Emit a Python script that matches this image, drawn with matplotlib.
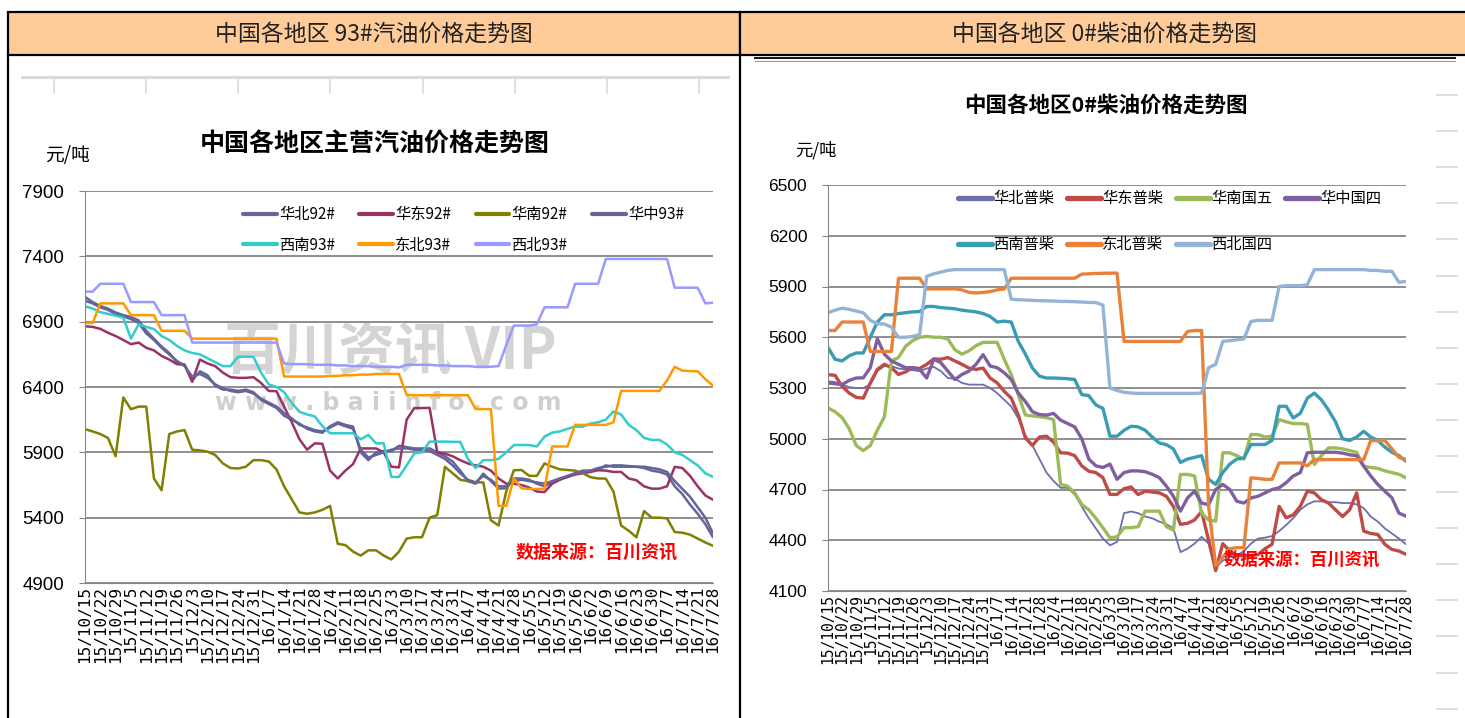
import numpy as np
import matplotlib
matplotlib.use('Agg')
import matplotlib.pyplot as plt
from matplotlib.lines import Line2D
from matplotlib.patches import Rectangle

plt.rcParams['font.family'] = ['Noto Sans CJK SC', 'DejaVu Sans']

W, H = 1465, 718

# 周度日期标签（两个图共用）
dates = ['15/10/15', '15/10/22', '15/10/29', '15/11/5', '15/11/12', '15/11/19', '15/11/26',
         '15/12/3', '15/12/10', '15/12/17', '15/12/24', '15/12/31', '16/1/7', '16/1/14',
         '16/1/21', '16/1/28', '16/2/4', '16/2/11', '16/2/18', '16/2/25', '16/3/3', '16/3/10',
         '16/3/17', '16/3/24', '16/3/31', '16/4/7', '16/4/14', '16/4/21', '16/4/28', '16/5/5',
         '16/5/12', '16/5/19', '16/5/26', '16/6/2', '16/6/9', '16/6/16', '16/6/23', '16/6/30',
         '16/7/7', '16/7/14', '16/7/21', '16/7/28']

# 汽油价格（半周一个点）
huabei_92 = [7090, 7050, 7020, 7000, 6970, 6950, 6935, 6910, 6830, 6770,
             6710, 6660, 6590, 6570, 6450, 6520, 6490, 6410, 6380, 6380,
             6370, 6380, 6360, 6300, 6270, 6240, 6180, 6150, 6120, 6080,
             6060, 6050, 6100, 6130, 6110, 6097, 5900, 5840, 5900, 5910,
             5910, 5950, 5940, 5930, 5930, 5930, 5900, 5870, 5830, 5760,
             5680, 5660, 5737, 5680, 5622, 5625, 5700, 5700, 5690, 5660,
             5640, 5670, 5700, 5712, 5740, 5760, 5760, 5770, 5800, 5790,
             5790, 5790, 5790, 5780, 5760, 5750, 5730, 5640, 5580, 5500,
             5430, 5350, 5250]
huadong_92 = [6865, 6860, 6845, 6815, 6790, 6760, 6728, 6740, 6700, 6680,
              6638, 6610, 6575, 6570, 6440, 6610, 6580, 6560, 6510, 6475,
              6470, 6470, 6475, 6430, 6370, 6368, 6250, 6130, 6000, 5920,
              5969, 5965, 5760, 5700, 5760, 5810, 5930, 5930, 5930, 5900,
              5790, 5785, 6150, 6239, 6239, 6240, 5900, 5890, 5870, 5840,
              5815, 5800, 5790, 5760, 5700, 5660, 5660, 5650, 5630, 5600,
              5596, 5660, 5690, 5712, 5730, 5740, 5750, 5763, 5760, 5750,
              5750, 5700, 5686, 5640, 5622, 5622, 5640, 5789, 5780, 5720,
              5640, 5570, 5537]
huanan_92 = [6077, 6060, 6040, 6010, 5870, 6320, 6230, 6250, 6250, 5700,
             5610, 6040, 6060, 6070, 5920, 5915, 5905, 5880, 5815, 5780,
             5776, 5790, 5840, 5840, 5830, 5770, 5640, 5540, 5440, 5430,
             5440, 5460, 5490, 5200, 5190, 5140, 5110, 5150, 5150, 5110,
             5080, 5140, 5240, 5250, 5250, 5400, 5420, 5789, 5740, 5690,
             5680, 5670, 5670, 5380, 5340, 5600, 5763, 5765, 5720, 5720,
             5815, 5790, 5770, 5765, 5760, 5740, 5710, 5700, 5699, 5600,
             5340, 5300, 5250, 5450, 5400, 5400, 5395, 5290, 5285, 5270,
             5240, 5210, 5185]
huazhong_93 = [7060, 7040, 7010, 6990, 6960, 6940, 6920, 6890, 6810, 6760,
               6700, 6650, 6600, 6560, 6480, 6500, 6470, 6420, 6390, 6370,
               6360, 6370, 6350, 6310, 6280, 6250, 6200, 6160, 6110, 6090,
               6070, 6060, 6090, 6120, 6100, 6080, 5920, 5860, 5880, 5900,
               5920, 5930, 5930, 5920, 5920, 5910, 5880, 5850, 5800, 5740,
               5690, 5670, 5720, 5690, 5640, 5640, 5680, 5690, 5680, 5670,
               5660, 5680, 5700, 5720, 5740, 5750, 5760, 5780, 5790, 5800,
               5800, 5795, 5790, 5790, 5780, 5770, 5750, 5680, 5620, 5560,
               5480, 5400, 5280]
xinan_93 = [7018, 7000, 6972, 6960, 6946, 6930, 6770, 6880, 6860, 6843,
            6790, 6760, 6715, 6680, 6660, 6650, 6620, 6590, 6560, 6560,
            6632, 6632, 6630, 6509, 6420, 6400, 6360, 6278, 6210, 6190,
            6175, 6100, 6046, 6046, 6046, 6046, 6000, 6033, 5969, 5969,
            5712, 5712, 5800, 5892, 5900, 5982, 5982, 5982, 5980, 5980,
            5850, 5780, 5840, 5840, 5850, 5900, 5956, 5956, 5956, 5945,
            6020, 6051, 6060, 6080, 6097, 6097, 6120, 6130, 6150, 6213,
            6190, 6110, 6070, 6010, 5995, 5995, 5960, 5900, 5880, 5840,
            5800, 5740, 5712]
dongbei_93 = [6890, 6890, 7040, 7040, 7040, 7040, 6950, 6950, 6950, 6950,
              6830, 6830, 6830, 6830, 6770, 6770, 6770, 6770, 6770, 6770,
              6770, 6770, 6770, 6770, 6770, 6770, 6480, 6480, 6480, 6480,
              6480, 6480, 6485, 6485, 6490, 6490, 6495, 6495, 6500, 6500,
              6500, 6500, 6340, 6337, 6337, 6337, 6337, 6337, 6337, 6337,
              6337, 6231, 6231, 6231, 5490, 5490, 5700, 5625, 5620, 5620,
              5620, 5945, 5945, 5945, 6110, 6110, 6110, 6110, 6110, 6130,
              6370, 6370, 6370, 6370, 6370, 6370, 6450, 6555, 6525, 6522,
              6520, 6460, 6410]
xibei_93 = [7130, 7130, 7190, 7190, 7190, 7190, 7050, 7050, 7050, 7050,
            6950, 6950, 6950, 6950, 6740, 6740, 6740, 6740, 6740, 6740,
            6740, 6740, 6740, 6740, 6740, 6740, 6580, 6575, 6575, 6575,
            6570, 6570, 6570, 6565, 6565, 6560, 6560, 6560, 6555, 6555,
            6555, 6550, 6570, 6570, 6570, 6570, 6565, 6565, 6560, 6560,
            6560, 6555, 6555, 6555, 6560, 6720, 6870, 6870, 6870, 6880,
            7010, 7010, 7010, 7010, 7190, 7190, 7190, 7190, 7380, 7380,
            7380, 7380, 7380, 7380, 7380, 7380, 7380, 7160, 7160, 7160,
            7160, 7040, 7045]

# 柴油价格（半周一个点）
huabei_cai = [5340, 5335, 5320, 5305, 5300, 5300, 5320, 5400, 5430, 5430,
              5415, 5410, 5405, 5400, 5415, 5425, 5400, 5359, 5355, 5330,
              5320, 5320, 5320, 5300, 5270, 5230, 5190, 5120, 5020, 4960,
              4880, 4800, 4750, 4710, 4710, 4670, 4600, 4530, 4470, 4410,
              4370, 4390, 4560, 4570, 4560, 4540, 4530, 4510, 4495, 4470,
              4330, 4350, 4380, 4420, 4380, 4240, 4280, 4300, 4310, 4336,
              4380, 4410, 4415, 4425, 4454, 4490, 4530, 4580, 4612, 4630,
              4630, 4625, 4625, 4620, 4620, 4612, 4590, 4540, 4510, 4470,
              4440, 4410, 4376]
huadong_cai = [5379, 5375, 5310, 5270, 5245, 5240, 5330, 5410, 5440, 5420,
               5380, 5395, 5420, 5415, 5440, 5472, 5470, 5480, 5460, 5440,
               5418, 5410, 5418, 5359, 5330, 5280, 5240, 5140, 5005, 4960,
               5010, 5015, 4980, 4917, 4915, 4900, 4840, 4808, 4800, 4770,
               4671, 4671, 4705, 4715, 4670, 4690, 4685, 4680, 4660, 4600,
               4494, 4500, 4520, 4570, 4400, 4220, 4380, 4336, 4310, 4307,
               4310, 4315, 4350, 4376, 4600, 4533, 4550, 4600, 4690, 4680,
               4640, 4620, 4580, 4540, 4580, 4680, 4454, 4440, 4434, 4376,
               4346, 4336, 4317]
huanan_wu = [5182, 5160, 5125, 5060, 4960, 4930, 4960, 5050, 5130, 5460,
             5480, 5546, 5580, 5600, 5605, 5600, 5600, 5590, 5526, 5500,
             5520, 5550, 5570, 5570, 5570, 5470, 5379, 5260, 5140, 5135,
             5130, 5125, 5113, 4730, 4720, 4680, 4612, 4580, 4530, 4474,
             4415, 4420, 4474, 4474, 4480, 4572, 4572, 4572, 4480, 4460,
             4789, 4789, 4780, 4560, 4520, 4513, 4917, 4917, 4900, 4880,
             5025, 5025, 5010, 5015, 5113, 5100, 5090, 5090, 5085, 4848,
             4900, 4946, 4946, 4940, 4930, 4920, 4838, 4830, 4825, 4810,
             4800, 4790, 4769]
huazhong_si = [5330, 5325, 5320, 5345, 5359, 5360, 5420, 5591, 5500, 5460,
               5440, 5420, 5420, 5410, 5359, 5470, 5450, 5400, 5350, 5380,
               5400, 5440, 5497, 5430, 5420, 5390, 5350, 5270, 5220, 5160,
               5143, 5140, 5150, 5110, 5090, 5070, 5000, 4880, 4840, 4830,
               4850, 4760, 4800, 4810, 4810, 4805, 4790, 4770, 4720, 4660,
               4572, 4650, 4690, 4620, 4610, 4700, 4730, 4700, 4630, 4620,
               4650, 4660, 4680, 4700, 4710, 4740, 4780, 4800, 4917, 4920,
               4920, 4920, 4920, 4915, 4905, 4900, 4838, 4780, 4730, 4690,
               4651, 4560, 4543]
xinan_cai = [5540, 5470, 5460, 5490, 5507, 5507, 5600, 5690, 5733, 5733,
             5740, 5745, 5750, 5752, 5782, 5782, 5775, 5772, 5768, 5760,
             5755, 5750, 5740, 5723, 5690, 5695, 5690, 5575, 5500, 5418,
             5370, 5359, 5359, 5357, 5355, 5350, 5261, 5255, 5200, 5180,
             5015, 5015, 5050, 5074, 5070, 5050, 5010, 4975, 4965, 4940,
             4860, 4880, 4890, 4900, 4760, 4730, 4800, 4850, 4880, 4885,
             4966, 4966, 4966, 4990, 5192, 5192, 5123, 5150, 5240, 5270,
             5230, 5170, 5100, 5000, 4990, 5010, 5044, 5010, 4990, 4950,
             4920, 4900, 4867]
dongbei_cai = [5640, 5640, 5690, 5690, 5690, 5690, 5516, 5516, 5516, 5516,
               5949, 5949, 5949, 5949, 5886, 5886, 5886, 5886, 5886, 5880,
               5865, 5862, 5865, 5870, 5880, 5885, 5949, 5949, 5949, 5949,
               5949, 5949, 5949, 5949, 5949, 5949, 5973, 5975, 5977, 5978,
               5979, 5979, 5575, 5575, 5575, 5575, 5575, 5575, 5575, 5575,
               5575, 5634, 5640, 5640, 4600, 4250, 4300, 4350, 4356, 4356,
               4769, 4765, 4760, 4760, 4857, 4857, 4857, 4857, 4840, 4877,
               4877, 4877, 4877, 4877, 4877, 4877, 4877, 4989, 4989, 4989,
               4940, 4890, 4877]
xibei_si = [5745, 5760, 5772, 5765, 5755, 5745, 5700, 5680, 5678, 5660,
            5600, 5600, 5605, 5615, 5960, 5975, 5985, 5995, 6000, 6000,
            6000, 6000, 6000, 6000, 6000, 6000, 5825, 5822, 5820, 5818,
            5816, 5815, 5814, 5812, 5812, 5810, 5808, 5806, 5805, 5790,
            5300, 5285, 5275, 5270, 5268, 5268, 5268, 5268, 5268, 5268,
            5268, 5268, 5268, 5270, 5420, 5440, 5575, 5580, 5585, 5590,
            5693, 5700, 5700, 5700, 5900, 5905, 5905, 5905, 5910, 6000,
            6000, 6000, 6000, 6000, 6000, 6000, 6000, 5995, 5995, 5990,
            5990, 5925, 5930]

gas_names = ['华北92#', '华东92#', '华南92#', '华中93#', '西南93#', '东北93#', '西北93#']
gas_values = [huabei_92, huadong_92, huanan_92, huazhong_93, xinan_93, dongbei_93, xibei_93]
gas_colors = ['#666699', '#993366', '#808000', '#64649A', '#33CCCC', '#FF9900', '#9999FF']

diesel_names = ['华北普柴', '华东普柴', '华南国五', '华中国四', '西南普柴', '东北普柴', '西北国四']
diesel_values = [huabei_cai, huadong_cai, huanan_wu, huazhong_si, xinan_cai, dongbei_cai, xibei_si]
diesel_colors = ['#6B6FAE', '#BE4B48', '#9BBB59', '#7F5FA0', '#3A9CB4', '#E8823A', '#95B3D7']


def fx(px):
    return px / W


def fy(py):
    return 1 - py / H


def fig_line(fig, x0, y0, x1, y1, **kw):
    fig.add_artist(Line2D([fx(x0), fx(x1)], [fy(y0), fy(y1)], transform=fig.transFigure, **kw))


def draw_chart(ax, names, values, colors, widths, ylim, ystep, ylab_size, xlab_size):
    x = np.arange(len(values[0])) * 0.5
    lines = []
    for name, vals, c, lw in zip(names, values, colors, widths):
        ln, = ax.plot(x, vals, color=c, lw=lw, label=name,
                      solid_joinstyle='round', solid_capstyle='round', zorder=2)
        lines.append(ln)
    ax.set_xlim(0, len(dates) - 1)
    ax.set_ylim(*ylim)
    ax.set_yticks(np.arange(ylim[0], ylim[1] + 1, ystep))
    ax.set_xticks(range(len(dates)))
    ax.set_xticklabels(dates, rotation=90, family='DejaVu Sans Mono', fontsize=xlab_size)
    for lab in ax.get_yticklabels():
        lab.set_family(['Liberation Sans Narrow', 'Liberation Sans', 'DejaVu Sans'])
        lab.set_fontsize(ylab_size)
    ax.grid(axis='y', color='#868686', lw=1.3)
    ax.set_axisbelow(True)
    for s in ['top', 'right']:
        ax.spines[s].set_visible(False)
    ax.spines['left'].set_color('#868686')
    ax.spines['bottom'].set_color('#868686')
    ax.tick_params(axis='y', direction='out', length=4, color='#868686', pad=11)
    ax.tick_params(axis='x', length=0, pad=2)
    return lines


fig = plt.figure(figsize=(W / 100, H / 100), dpi=100)

# 表头
for x0, x1, title in [(8, 740, '中国各地区 93#汽油价格走势图'), (740, 1470, '中国各地区 0#柴油价格走势图')]:
    fig.add_artist(Rectangle((fx(x0), fy(55)), (x1 - x0) / W, 43 / H, transform=fig.transFigure,
                             facecolor='#FFCC99', edgecolor='black', lw=1.6))
    fig.text(fx((x0 + min(x1, 1475)) / 2), fy(34), title, ha='center', va='center',
             fontsize=16.5, fontweight='light', color='#222222')
fig_line(fig, 8, 55, 8, 718, color='black', lw=1.6)
fig_line(fig, 740, 55, 740, 718, color='black', lw=1.6)

# 左侧上方残留的坐标线
fig_line(fig, 22, 77, 728, 77, color='#DADADA', lw=2.2)
for xt in np.linspace(54, 699, 8):
    fig_line(fig, xt, 77, xt, 93, color='#DADADA', lw=1.2)
# 右侧上方双线与右边缘刻度
fig_line(fig, 755, 57.5, 1455, 57.5, color='#111111', lw=1.4)
fig_line(fig, 755, 60.5, 1455, 60.5, color='#9A9A9A', lw=0.8)
for yt in np.arange(95, 715, 36.1):
    fig_line(fig, 1437, yt, 1457, yt, color='#DADADA', lw=1.3)

# 左图：汽油
ax1 = fig.add_axes([fx(85), fy(583), (713 - 85) / W, (583 - 191) / H])
gas_lines = draw_chart(ax1, gas_names, gas_values, gas_colors, [1.8] * 7,
                       (4900, 7900), 500, 13.5, 11.5)
order = [0, 4, 1, 5, 2, 6, 3]
leg1 = ax1.legend([gas_lines[i] for i in order], [gas_names[i] for i in order],
                  loc='upper left', bbox_to_anchor=(fx(243), fy(206)), bbox_transform=fig.transFigure,
                  ncol=4, frameon=False, borderpad=0, borderaxespad=0, fontsize=11,
                  handlelength=2.2, handletextpad=0.15, columnspacing=1.6, labelspacing=0.9)
for h in leg1.legend_handles:
    h.set_linewidth(3)

ax1.text(fx(375), fy(145), '中国各地区主营汽油价格走势图', transform=fig.transFigure,
         ha='center', va='center', fontsize=18, fontweight='bold', color='black')
ax1.text(fx(68), fy(155), '元/吨', transform=fig.transFigure, ha='center', va='center',
         fontsize=13.5, color='black')
ax1.text(fx(390), fy(352), '百川资讯 VIP', transform=fig.transFigure, ha='center', va='center',
         fontsize=41, fontweight='bold', color='#D4D4D4', zorder=0.5)
ax1.text(fx(388), fy(403), 'w w w . b a i i n f o . c o m', transform=fig.transFigure,
         ha='center', va='center', fontsize=17, fontweight='bold', color='#CFCFCF',
         family='DejaVu Sans', zorder=0.5)
ax1.text(fx(597), fy(553), '数据来源：百川资讯', transform=fig.transFigure, ha='center',
         va='center', fontsize=13, fontweight='bold', color='#FF0000', zorder=5)

# 右图：柴油
ax2 = fig.add_axes([fx(828), fy(591), (1406 - 828) / W, (591 - 185) / H])
diesel_lines = draw_chart(ax2, diesel_names, diesel_values, diesel_colors,
                          [1.3, 2.4, 2.4, 2.4, 2.4, 2.4, 2.4],
                          (4100, 6500), 300, 12.5, 10.5)
leg2 = ax2.legend([diesel_lines[i] for i in order], [diesel_names[i] for i in order],
                  loc='upper left', bbox_to_anchor=(fx(958), fy(190)), bbox_transform=fig.transFigure,
                  ncol=4, frameon=False, borderpad=0, borderaxespad=0, fontsize=11,
                  handlelength=2.2, handletextpad=0.1, columnspacing=0.85, labelspacing=1.9)
for h in leg2.legend_handles:
    h.set_linewidth(3.8)

ax2.text(fx(1106), fy(105), '中国各地区0#柴油价格走势图', transform=fig.transFigure,
         ha='center', va='center', fontsize=15.5, fontweight='bold', color='black')
ax2.text(fx(816), fy(150), '元/吨', transform=fig.transFigure, ha='center', va='center',
         fontsize=12.5, color='black')
ax2.text(fx(1302), fy(560), '数据来源：百川资讯', transform=fig.transFigure, ha='center',
         va='center', fontsize=12.5, fontweight='bold', color='#FF0000', zorder=5)

fig.savefig('out.png', dpi=100)
